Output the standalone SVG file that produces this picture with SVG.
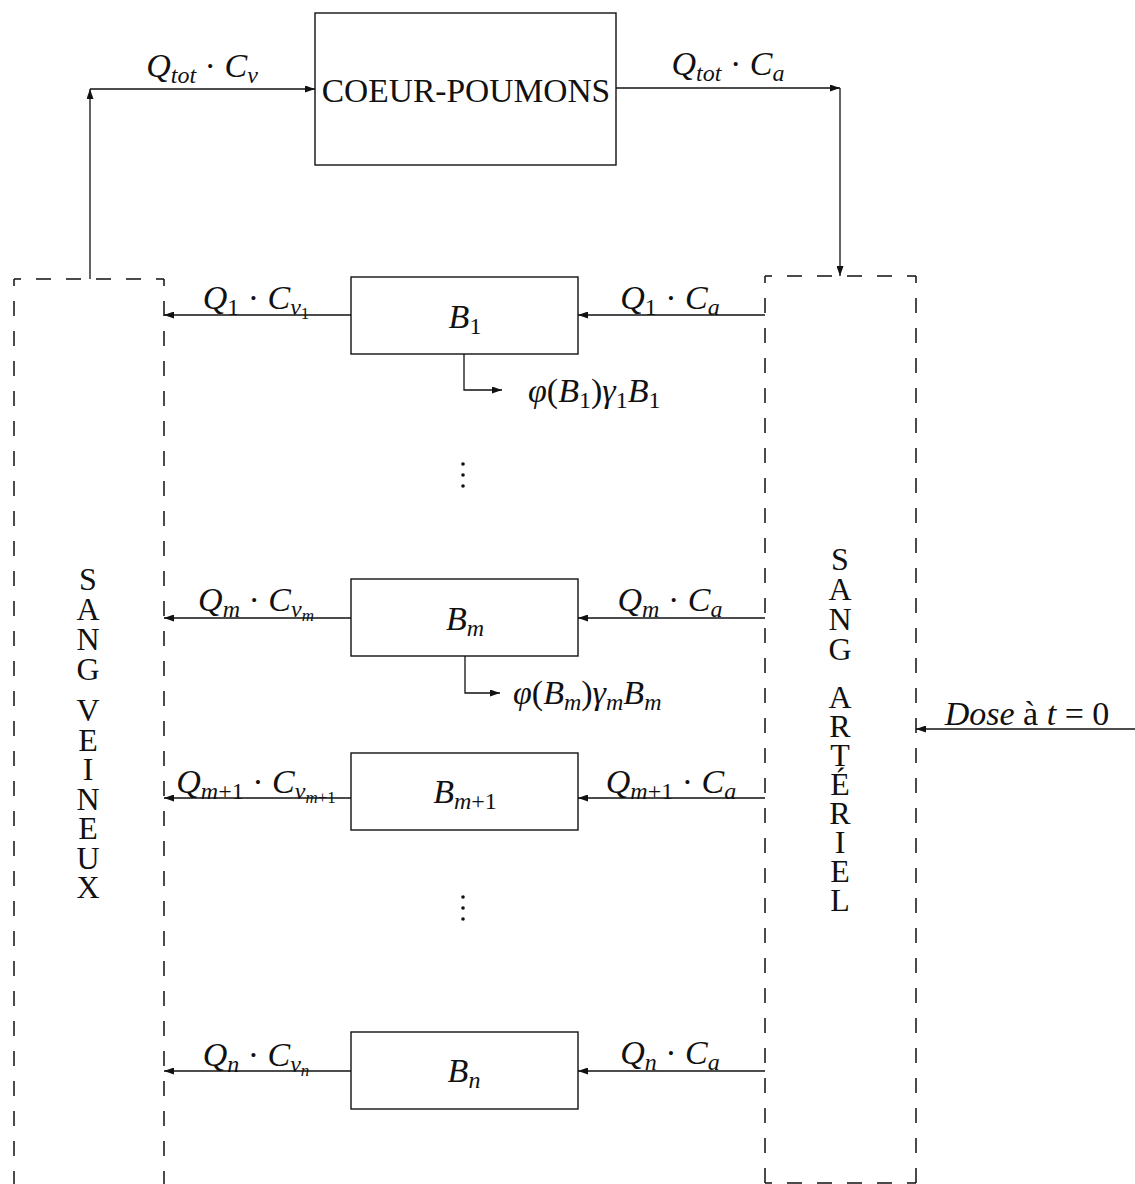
<svg xmlns="http://www.w3.org/2000/svg" width="1135" height="1184" viewBox="0 0 1135 1184">
<defs>
<style>
.t{font-family:"Liberation Serif","DejaVu Serif",serif;font-size:34px;fill:#111}
.i{font-style:italic}
.s{font-size:24px}
.ss{font-size:17px}
.v{font-family:"Liberation Serif","DejaVu Serif",serif;font-size:32px;fill:#111;writing-mode:vertical-rl;text-orientation:upright;letter-spacing:-6px}
.box{fill:none;stroke:#111;stroke-width:1.4}
.ar{fill:none;stroke:#111;stroke-width:1.3;marker-end:url(#ah)}
.dash{fill:none;stroke:#111;stroke-width:1.5;stroke-dasharray:15 15;stroke-dashoffset:8}
</style>
<marker id="ah" markerUnits="userSpaceOnUse" viewBox="0 0 10 7" refX="10" refY="3.5" markerWidth="10" markerHeight="7" orient="auto">
<path d="M0,0 L10,3.5 L0,7 z" fill="#111"/>
</marker>
</defs>
<rect width="1135" height="1184" fill="#fff"/>

<g id="sang-veineux">
<line class="dash" x1="14" y1="279" x2="164" y2="279"/>
<line class="dash" x1="14" y1="279" x2="14" y2="1200"/>
<line class="dash" x1="164" y1="279" x2="164" y2="1200"/>
<text class="v" x="88" y="561">SANG</text>
<text class="v" x="88" y="692" style="letter-spacing:-6.5px">VEINEUX</text>
</g>

<g id="sang-arteriel">
<line class="dash" x1="765" y1="276" x2="916" y2="276"/>
<line class="dash" x1="765" y1="1183" x2="916" y2="1183"/>
<line class="dash" x1="765" y1="276" x2="765" y2="1183"/>
<line class="dash" x1="916" y1="276" x2="916" y2="1183"/>
<text class="v" x="840" y="541">SANG</text>
<text class="v" x="840" y="679" style="letter-spacing:-7px">ARTÉRIEL</text>
</g>

<g id="coeur-poumons">
<rect class="box" x="315" y="13" width="301" height="152"/>
<text class="t" x="466" y="102" text-anchor="middle" style="font-size:33.5px">COEUR-POUMONS</text>
</g>

<g id="B1">
<rect class="box" x="351" y="277" width="227" height="77"/>
<text class="t" x="465" y="328" text-anchor="middle"><tspan class="i">B</tspan><tspan class="s" dy="6">1</tspan></text>
</g>
<g id="Bm">
<rect class="box" x="351" y="579" width="227" height="77"/>
<text class="t" x="465" y="630" text-anchor="middle"><tspan class="i">B</tspan><tspan class="s i" dy="6">m</tspan></text>
</g>
<g id="Bm1">
<rect class="box" x="351" y="753" width="227" height="77"/>
<text class="t" x="465" y="803" text-anchor="middle"><tspan class="i">B</tspan><tspan class="s i" dy="6">m</tspan><tspan class="s">+1</tspan></text>
</g>
<g id="Bn">
<rect class="box" x="351" y="1032" width="227" height="77"/>
<text class="t" x="464" y="1082" text-anchor="middle"><tspan class="i">B</tspan><tspan class="s i" dy="6">n</tspan></text>
</g>

<g id="dots">
<circle cx="463" cy="464" r="1.8" fill="#111"/><circle cx="463" cy="475" r="1.8" fill="#111"/><circle cx="463" cy="486" r="1.8" fill="#111"/>
<circle cx="463" cy="897" r="1.8" fill="#111"/><circle cx="463" cy="908" r="1.8" fill="#111"/><circle cx="463" cy="919" r="1.8" fill="#111"/>
</g>

<g id="connectors">
<line class="ar" x1="90" y1="279" x2="90" y2="89"/>
<line class="ar" x1="90" y1="89" x2="315" y2="89"/>
<line class="ar" x1="616" y1="88" x2="840" y2="88"/>
<line class="ar" x1="840" y1="88" x2="840" y2="276"/>

<line class="ar" x1="765" y1="315" x2="578" y2="315"/>
<line class="ar" x1="351" y1="315" x2="164" y2="315"/>
<polyline class="ar" points="464,354 464,390 502,390"/>

<line class="ar" x1="765" y1="618" x2="578" y2="618"/>
<line class="ar" x1="351" y1="618" x2="164" y2="618"/>
<polyline class="ar" points="465,656 465,693 500,693"/>

<line class="ar" x1="765" y1="798" x2="578" y2="798"/>
<line class="ar" x1="351" y1="798" x2="164" y2="798"/>

<line class="ar" x1="765" y1="1071" x2="578" y2="1071"/>
<line class="ar" x1="351" y1="1071" x2="164" y2="1071"/>

<line class="ar" x1="1135" y1="729" x2="916" y2="729"/>
</g>

<g id="labels">
<text class="t" x="202" y="77" text-anchor="middle"><tspan class="i">Q</tspan><tspan class="s i" dy="6">tot</tspan><tspan dy="-6"> · </tspan><tspan class="i">C</tspan><tspan class="s i" dy="6">v</tspan></text>
<text class="t" x="728" y="75" text-anchor="middle"><tspan class="i">Q</tspan><tspan class="s i" dy="6">tot</tspan><tspan dy="-6"> · </tspan><tspan class="i">C</tspan><tspan class="s i" dy="6">a</tspan></text>

<text class="t" x="256" y="309" text-anchor="middle"><tspan class="i">Q</tspan><tspan class="s" dy="6">1</tspan><tspan dy="-6"> · </tspan><tspan class="i">C</tspan><tspan class="s i" dy="6">v</tspan><tspan class="ss" dy="4">1</tspan></text>
<text class="t" x="670" y="309" text-anchor="middle"><tspan class="i">Q</tspan><tspan class="s" dy="6">1</tspan><tspan dy="-6"> · </tspan><tspan class="i">C</tspan><tspan class="s i" dy="6">a</tspan></text>
<text class="t" x="528" y="402"><tspan class="i">φ</tspan>(<tspan class="i">B</tspan><tspan class="s" dy="6">1</tspan><tspan dy="-6">)</tspan><tspan class="i">γ</tspan><tspan class="s" dy="6">1</tspan><tspan class="i" dy="-6">B</tspan><tspan class="s" dy="6">1</tspan></text>

<text class="t" x="256" y="611" text-anchor="middle"><tspan class="i">Q</tspan><tspan class="s i" dy="6">m</tspan><tspan dy="-6"> · </tspan><tspan class="i">C</tspan><tspan class="s i" dy="6">v</tspan><tspan class="ss i" dy="4">m</tspan></text>
<text class="t" x="670" y="611" text-anchor="middle"><tspan class="i">Q</tspan><tspan class="s i" dy="6">m</tspan><tspan dy="-6"> · </tspan><tspan class="i">C</tspan><tspan class="s i" dy="6">a</tspan></text>
<text class="t" x="513" y="704"><tspan class="i">φ</tspan>(<tspan class="i">B</tspan><tspan class="s i" dy="6">m</tspan><tspan dy="-6">)</tspan><tspan class="i">γ</tspan><tspan class="s i" dy="6">m</tspan><tspan class="i" dy="-6">B</tspan><tspan class="s i" dy="6">m</tspan></text>

<text class="t" x="256" y="793" text-anchor="middle"><tspan class="i">Q</tspan><tspan class="s i" dy="6">m</tspan><tspan class="s">+1</tspan><tspan dy="-6"> · </tspan><tspan class="i">C</tspan><tspan class="s i" dy="6">v</tspan><tspan class="ss i" dy="4">m</tspan><tspan class="ss">+1</tspan></text>
<text class="t" x="671" y="793" text-anchor="middle"><tspan class="i">Q</tspan><tspan class="s i" dy="6">m</tspan><tspan class="s">+1</tspan><tspan dy="-6"> · </tspan><tspan class="i">C</tspan><tspan class="s i" dy="6">a</tspan></text>

<text class="t" x="256" y="1066" text-anchor="middle"><tspan class="i">Q</tspan><tspan class="s i" dy="6">n</tspan><tspan dy="-6"> · </tspan><tspan class="i">C</tspan><tspan class="s i" dy="6">v</tspan><tspan class="ss i" dy="4">n</tspan></text>
<text class="t" x="670" y="1064" text-anchor="middle"><tspan class="i">Q</tspan><tspan class="s i" dy="6">n</tspan><tspan dy="-6"> · </tspan><tspan class="i">C</tspan><tspan class="s i" dy="6">a</tspan></text>

<text class="t" x="1027" y="725" text-anchor="middle"><tspan class="i">Dose</tspan> à <tspan class="i">t</tspan> = 0</text>
</g>
</svg>
